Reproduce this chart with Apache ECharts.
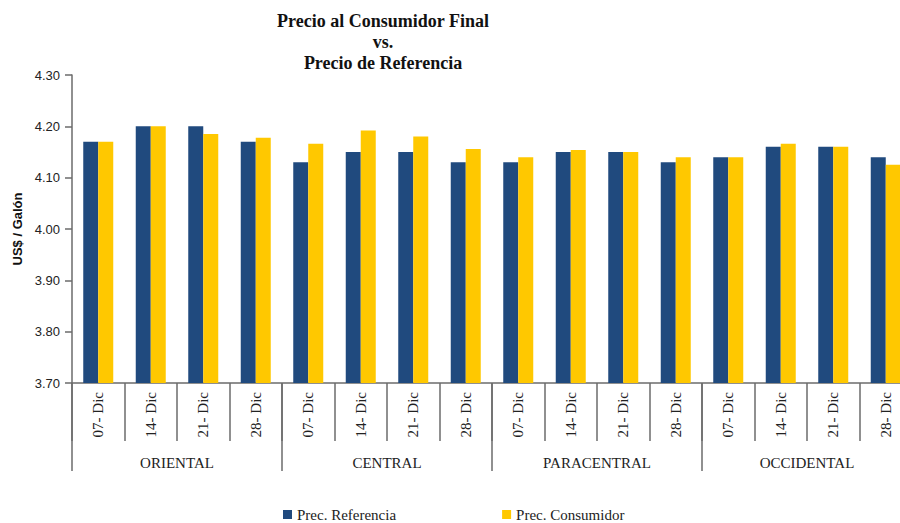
<!DOCTYPE html>
<html>
<head>
<meta charset="utf-8">
<script src="https://cdn.jsdelivr.net/npm/echarts@6/dist/echarts.min.js"></script>
<style>
  html, body { margin: 0; padding: 0; background: #fff; overflow: hidden; }
  #chart { width: 912px; height: 523px; }
</style>
</head>
<body>
<div id="chart"></div>
<script>
var fechas = ['07-Dic', '14-Dic', '21-Dic', '28-Dic', '07-Dic', '14-Dic', '21-Dic', '28-Dic',
  '07-Dic', '14-Dic', '21-Dic', '28-Dic', '07-Dic', '14-Dic', '21-Dic', '28-Dic'];
var zonas = ['ORIENTAL', 'CENTRAL', 'PARACENTRAL', 'OCCIDENTAL'];
var precReferencia = [4.17, 4.20, 4.20, 4.17, 4.13, 4.15, 4.15, 4.13,
  4.13, 4.15, 4.15, 4.13, 4.14, 4.16, 4.16, 4.14];
var precConsumidor = [4.17, 4.20, 4.185, 4.178, 4.166, 4.192, 4.18, 4.156,
  4.14, 4.154, 4.15, 4.14, 4.14, 4.166, 4.16, 4.125];
var yTicks = { min: 3.70, max: 4.30, interval: 0.10 };

var serif = '"Liberation Serif", "DejaVu Serif", serif';
var sans = '"Liberation Sans", Arial, sans-serif';
var azul = '#204a7e';
var amarillo = '#ffc800';
var ejeColor = '#6b6b6b';

// the plot runs past the right edge of the 900px picture, as in the reference
var chart = echarts.init(document.getElementById('chart'), null, { renderer: 'svg' });
chart.setOption({
  animation: false,
  title: {
    text: 'Precio al Consumidor Final\nvs.\nPrecio de Referencia',
    left: 378,
    top: 5,
    textAlign: 'center',
    textStyle: { fontFamily: serif, fontWeight: 'bold', fontSize: 18, lineHeight: 21, color: '#111' }
  },
  legend: {
    top: 502,
    left: 278,
    itemGap: 106,
    itemWidth: 9,
    itemHeight: 9,
    icon: 'rect',
    textStyle: { fontFamily: serif, fontSize: 15, color: '#222', letterSpacing: 0.5 },
    data: ['Prec. Referencia', 'Prec. Consumidor']
  },
  grid: { left: 72, top: 75, height: 308, right: 0, containLabel: false },
  xAxis: [{
    type: 'category',
    data: fechas,
    axisLine: { lineStyle: { color: ejeColor, width: 1.5 } },
    axisTick: { show: true, interval: 0, length: 58, lineStyle: { color: ejeColor, width: 1.5 } },
    axisLabel: { interval: 0, rotate: 90, margin: 9, fontFamily: serif, fontSize: 15, color: '#222',
      letterSpacing: 1, formatter: function(v) { return v.replace('-', '- '); } }
  }, {
    type: 'category',
    data: zonas,
    position: 'bottom',
    axisLine: { show: false },
    axisTick: { show: true, interval: 0, length: 88, lineStyle: { color: ejeColor, width: 1.5 } },
    axisLabel: { interval: 0, margin: 72, fontFamily: serif, fontSize: 15, color: '#222', letterSpacing: 0.5 }
  }],
  yAxis: {
    type: 'value',
    min: yTicks.min,
    max: yTicks.max,
    interval: yTicks.interval,
    name: 'US$ / Galón',
    nameLocation: 'middle',
    nameGap: 48,
    nameTextStyle: { fontFamily: sans, fontWeight: 'bold', fontSize: 13, color: '#111' },
    axisLine: { show: true, lineStyle: { color: ejeColor, width: 1.5 } },
    axisTick: { show: true, length: 7, lineStyle: { color: ejeColor, width: 1.5 } },
    splitLine: { show: false },
    axisLabel: { margin: 12, fontFamily: sans, fontSize: 13, color: '#222',
      formatter: function(v) { return v.toFixed(2); } }
  },
  series: [{
    name: 'Prec. Referencia',
    type: 'bar',
    data: precReferencia,
    barWidth: 15,
    barGap: '0%',
    itemStyle: { color: azul }
  }, {
    name: 'Prec. Consumidor',
    type: 'bar',
    data: precConsumidor,
    barWidth: 15,
    barGap: '0%',
    itemStyle: { color: amarillo }
  }]
});
window.addEventListener('resize', function() { chart.resize(); });
</script>
</body>
</html>
